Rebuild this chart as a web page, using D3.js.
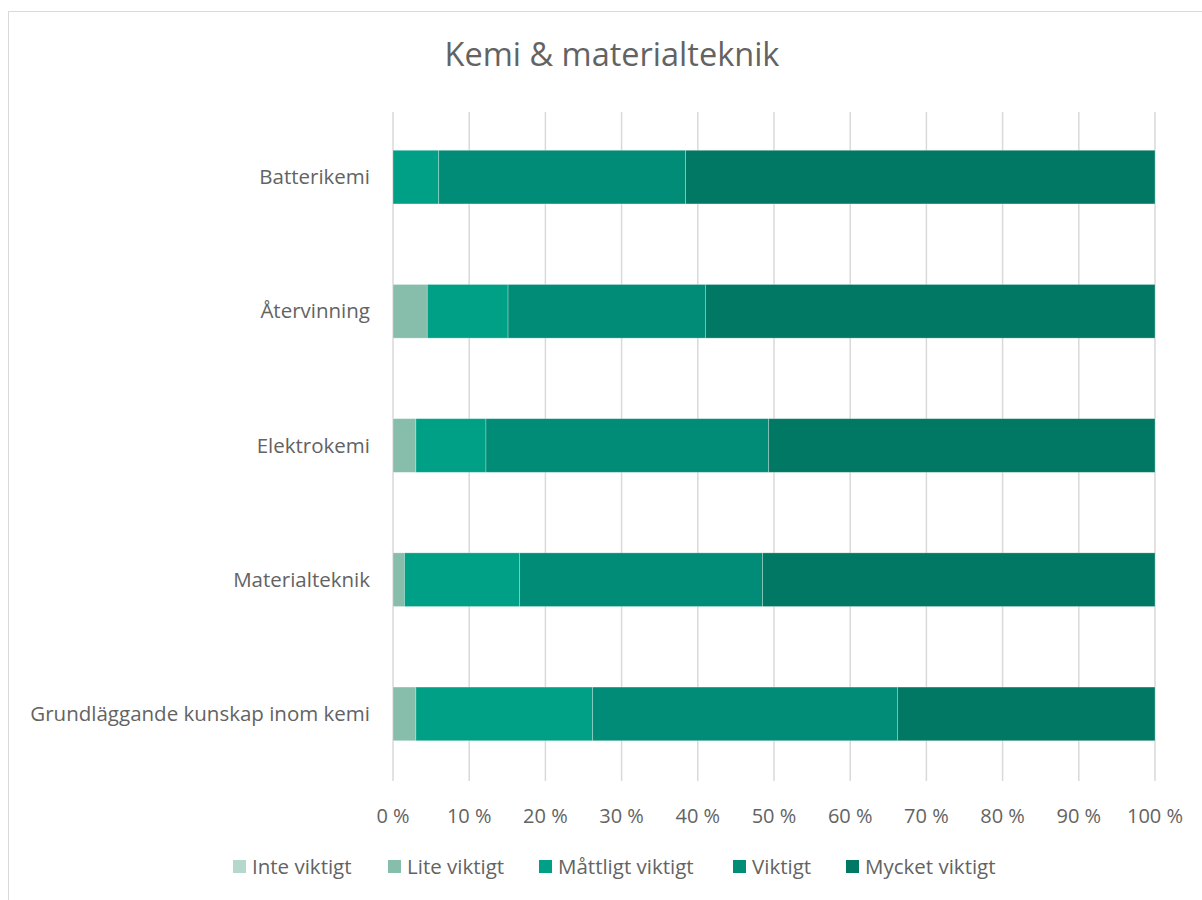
<!DOCTYPE html>
<html>
<head>
<meta charset="utf-8">
<script src="https://cdn.jsdelivr.net/npm/d3@7"></script>
<style>
  body { margin: 0; background: #fff; }
  text { font-family: "Open Sans", sans-serif; fill: #636363; }
</style>
</head>
<body>
<script>
// data, percent per category
const categories = ["Batterikemi", "Återvinning", "Elektrokemi", "Materialteknik", "Grundläggande kunskap inom kemi"];
const series = ["Inte viktigt", "Lite viktigt", "Måttligt viktigt", "Viktigt", "Mycket viktigt"];
const inteViktigt = [0, 0, 0, 0, 0];
const liteViktigt = [0, 4.5, 3.0, 1.5, 3.0];
const mattligtViktigt = [6.0, 10.6, 9.2, 15.1, 23.2];
const viktigt = [32.4, 25.9, 37.1, 31.9, 40.0];
const mycketViktigt = [61.6, 59.0, 50.7, 51.5, 33.8];
const ticks = [0, 10, 20, 30, 40, 50, 60, 70, 80, 90, 100];
const colors = ["#b5d7cc", "#86bdab", "#00a086", "#008c76", "#007864"];

const W = 1202, H = 900;
const m = {top: 110, bottom: 119, left: 393, right: 47};
const w = W - m.left - m.right;
const h = H - m.top - m.bottom;

const rows = categories.map((c, i) => {
  const r = {cat: c};
  [inteViktigt, liteViktigt, mattligtViktigt, viktigt, mycketViktigt].forEach((arr, j) => r[series[j]] = arr[i]);
  return r;
});

const svg = d3.select("body").append("svg")
    .attr("width", W)
    .attr("height", H);

svg.append("rect")
    .attr("x", 8.5).attr("y", 11.5)
    .attr("width", W + 10).attr("height", H + 10)
    .attr("fill", "none")
    .attr("stroke", "#d9d9d9");

svg.append("text")
    .attr("x", 612).attr("y", 66)
    .attr("text-anchor", "middle")
    .attr("font-size", 32.5)
    .text("Kemi & materialteknik");

const g = svg.append("g")
    .attr("transform", `translate(${m.left}, ${m.top})`);

const x = d3.scaleLinear().domain([0, 100]).range([0, w]);
const y = d3.scaleBand().domain(categories).range([0, h]).paddingInner(0.6).paddingOuter(0.3);

// gridlines
g.selectAll("line.grid")
    .data(ticks)
    .enter()
    .append("line")
    .attr("x1", d => x(d)).attr("x2", d => x(d))
    .attr("y1", 2).attr("y2", h)
    .attr("stroke", "#d9d9d9")
    .attr("stroke-width", 1.5);

const stack = d3.stack().keys(series)(rows);

g.selectAll("g.layer")
    .data(stack)
    .enter()
    .append("g")
    .attr("fill", (d, i) => colors[i])
    .selectAll("rect")
    .data(d => d)
    .enter()
    .append("rect")
    .attr("x", d => x(d[0]))
    .attr("y", d => y(d.data.cat))
    .attr("width", d => x(d[1]) - x(d[0]))
    .attr("height", y.bandwidth())
    .attr("stroke", d => (d[1] - d[0]) > 0 ? "rgba(255,255,255,0.35)" : "none")
    .attr("stroke-width", 0.8);

// category labels
g.selectAll("text.cat")
    .data(categories)
    .enter()
    .append("text")
    .attr("x", -23)
    .attr("y", d => y(d) + y.bandwidth() / 2)
    .attr("dy", "0.35em")
    .attr("text-anchor", "end")
    .attr("font-size", 20.5)
    .text(d => d);

// tick labels
g.selectAll("text.tick")
    .data(ticks)
    .enter()
    .append("text")
    .attr("x", d => x(d))
    .attr("y", h + 42)
    .attr("text-anchor", "middle")
    .attr("font-size", 20)
    .text(d => d + " %");

// legend
const legendX = [233, 388, 539, 733, 846];
const lg = svg.append("g");
series.forEach((s, i) => {
  lg.append("rect")
    .attr("x", legendX[i]).attr("y", 860)
    .attr("width", 13).attr("height", 13)
    .attr("fill", colors[i]);
  lg.append("text")
    .attr("x", legendX[i] + 19).attr("y", 867)
    .attr("dy", "0.35em")
    .attr("font-size", 20.5)
    .text(s);
});
</script>
</body>
</html>
